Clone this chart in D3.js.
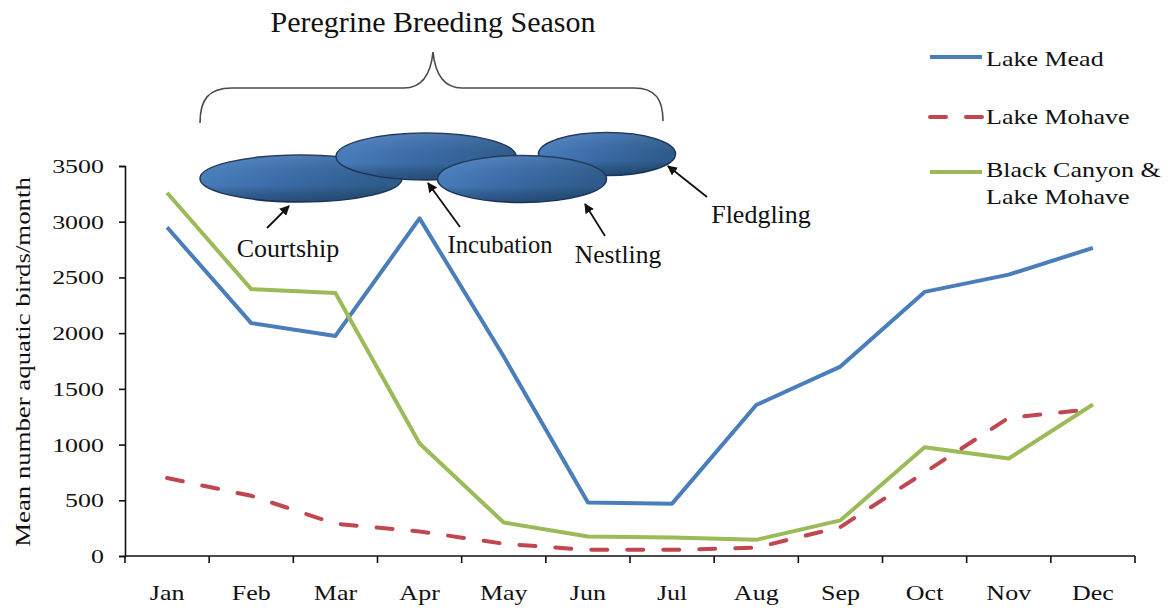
<!DOCTYPE html>
<html>
<head>
<meta charset="utf-8">
<script src="https://cdn.jsdelivr.net/npm/d3@7"></script>
<style>
  html, body { margin: 0; padding: 0; background: #fff; }
  svg { display: block; }
  text { font-family: "Liberation Serif", "Times New Roman", serif; fill: #111; }
</style>
</head>
<body>
<svg id="chart" width="1176" height="613"></svg>
<script>
// Monthly means of aquatic birds at three survey areas
const months = ["Jan", "Feb", "Mar", "Apr", "May", "Jun", "Jul", "Aug", "Sep", "Oct", "Nov", "Dec"];
const lakeMead = [2950, 2090, 1975, 3030, 1790, 480, 470, 1355, 1700, 2370, 2525, 2765];
const lakeMohave = [700, 540, 290, 220, 110, 55, 55, 75, 260, 750, 1240, 1320];
const blackCanyon = [3260, 2395, 2360, 1010, 300, 175, 165, 145, 320, 975, 875, 1360];
const yTicks = [0, 500, 1000, 1500, 2000, 2500, 3000, 3500];

const seriesNames = ["Lake Mead", "Lake Mohave", "Black Canyon & Lake Mohave"];

// Breeding-season phases shown above the plot
const phases = ["Courtship", "Incubation", "Nestling", "Fledgling"];

const svg = d3.select("#chart");

const plot = { left: 125, right: 1135, top: 166, bottom: 556 };

const x = d3.scaleBand().domain(months).range([plot.left, plot.right]);
const y = d3.scaleLinear().domain([0, 3500]).range([plot.bottom, plot.top]);

// Text helper: serif text, optionally widened along its own direction
function label(g, str, tx, ty, opts = {}) {
  const size = opts.size || 20;
  const sx = opts.sx || 1;
  const rot = opts.rotate || 0;
  return g.append("text")
    .attr("transform", `translate(${tx},${ty}) rotate(${rot}) scale(${sx},1)`)
    .attr("text-anchor", opts.anchor || "start")
    .style("font-size", size + "px")
    .text(str);
}

// ---- Axes ----
const axisG = svg.append("g");

const yAxis = d3.axisLeft(y).tickValues(yTicks).tickSize(6).tickFormat("");
axisG.append("g")
  .attr("transform", `translate(${plot.left},0)`)
  .call(yAxis)
  .call(g => g.selectAll("path, line").attr("stroke", "#111").attr("stroke-width", 1.6));

// y tick labels
yTicks.forEach(v => {
  label(axisG, String(v), 104, y(v) + 7, { size: 19.5, sx: 1.33, anchor: "end" });
});

// x axis: baseline plus ticks at category boundaries
const xAxisG = axisG.append("g");
xAxisG.append("line")
  .attr("x1", plot.left).attr("x2", plot.right)
  .attr("y1", plot.bottom).attr("y2", plot.bottom)
  .attr("stroke", "#111").attr("stroke-width", 1.6);
const boundaries = months.map(m => x(m)).concat([x(months[months.length - 1]) + x.bandwidth()]);
xAxisG.selectAll("line.tick")
  .data(boundaries)
  .join("line")
  .attr("class", "tick")
  .attr("x1", d => d).attr("x2", d => d)
  .attr("y1", plot.bottom).attr("y2", plot.bottom + 7)
  .attr("stroke", "#111").attr("stroke-width", 1.6);

months.forEach(m => {
  label(xAxisG, m, x(m) + x.bandwidth() / 2, 600, { size: 20, sx: 1.3, anchor: "middle" });
});

// y axis title
label(axisG, "Mean number aquatic birds/month", 30, 362, { size: 20, sx: 1.34, rotate: -90, anchor: "middle" });

// ---- Lines ----
const line = d3.line()
  .x((d, i) => x(months[i]) + x.bandwidth() / 2)
  .y(d => y(d));

const series = [
  { name: seriesNames[0], values: lakeMead, color: "#4A7EBB", dash: null },
  { name: seriesNames[1], values: lakeMohave, color: "#C0464F", dash: "16,20" },
  { name: seriesNames[2], values: blackCanyon, color: "#9BBB59", dash: null }
];

const linesG = svg.append("g");
[series[0], series[2], series[1]].forEach(s => {
  linesG.append("path")
    .datum(s.values)
    .attr("d", line)
    .attr("fill", "none")
    .attr("stroke", s.color)
    .attr("stroke-width", 4)
    .attr("stroke-linejoin", "round")
    .attr("stroke-linecap", s.dash ? "round" : "butt")
    .attr("stroke-dasharray", s.dash);
});

// ---- Legend ----
const legend = svg.append("g");
const legendRows = [
  { s: series[0], lineY: 57 },
  { s: series[1], lineY: 117 },
  { s: series[2], lineY: 172 }
];
legendRows.forEach(r => {
  legend.append("line")
    .attr("x1", 930).attr("x2", r.s.dash ? 984 : 982)
    .attr("y1", r.lineY).attr("y2", r.lineY)
    .attr("stroke", r.s.color)
    .attr("stroke-width", 4)
    .attr("stroke-linecap", r.s.dash ? "round" : "butt")
    .attr("stroke-dasharray", r.s.dash);
});
label(legend, "Lake Mead", 986, 66, { size: 20, sx: 1.3 });
label(legend, "Lake Mohave", 986, 124, { size: 20, sx: 1.3 });
label(legend, "Black Canyon &", 986, 177, { size: 20, sx: 1.3 });
label(legend, "Lake Mohave", 986, 204, { size: 20, sx: 1.3 });

// ---- Breeding season annotation ----
const ann = svg.append("g");

label(ann, "Peregrine Breeding Season", 433, 32, { size: 30, anchor: "middle" });

// curly brace spanning the season
const brace = d3.path();
brace.moveTo(200, 123);
brace.bezierCurveTo(200, 100, 208, 88, 232, 88);
brace.lineTo(404, 88);
brace.bezierCurveTo(424, 88, 431, 72, 433, 52);
brace.bezierCurveTo(435, 72, 442, 88, 462, 88);
brace.lineTo(634, 88);
brace.bezierCurveTo(656, 88, 663, 100, 663, 121);
ann.append("path")
  .attr("d", brace.toString())
  .attr("fill", "none")
  .attr("stroke", "#4a4a4a")
  .attr("stroke-width", 1.6);

const defs = svg.append("defs");
const grad = defs.append("linearGradient")
  .attr("id", "phaseFill")
  .attr("x1", "0").attr("y1", "0").attr("x2", "1").attr("y2", "0.4");
grad.append("stop").attr("offset", "0%").attr("stop-color", "#4f86c6");
grad.append("stop").attr("offset", "55%").attr("stop-color", "#3b6ca8");
grad.append("stop").attr("offset", "100%").attr("stop-color", "#2e5c8c");

const shade = defs.append("linearGradient")
  .attr("id", "phaseShade")
  .attr("x1", "0").attr("y1", "0").attr("x2", "0").attr("y2", "1");
shade.append("stop").attr("offset", "0%").attr("stop-color", "#ffffff").attr("stop-opacity", 0.08);
shade.append("stop").attr("offset", "65%").attr("stop-color", "#000000").attr("stop-opacity", 0);
shade.append("stop").attr("offset", "100%").attr("stop-color", "#0a1f3a").attr("stop-opacity", 0.35);

const marker = defs.append("marker")
  .attr("id", "arrowHead")
  .attr("viewBox", "0 0 10 10")
  .attr("refX", 9).attr("refY", 5)
  .attr("markerWidth", 5.5).attr("markerHeight", 5.5)
  .attr("markerUnits", "strokeWidth")
  .attr("orient", "auto");
marker.append("path").attr("d", "M0,0 L10,5 L0,10 Z").attr("fill", "#111");

// ovals drawn in stacking order: courtship, incubation, fledgling, nestling
const ovals = [
  { name: phases[0], cx: 301, cy: 178.5, rx: 101, ry: 23.5 },
  { name: phases[1], cx: 426, cy: 156.5, rx: 90, ry: 23.5 },
  { name: phases[3], cx: 607, cy: 154, rx: 68.5, ry: 21.5 },
  { name: phases[2], cx: 522, cy: 179, rx: 84.5, ry: 23.5 }
];
ovals.forEach(o => {
  ann.append("ellipse")
    .attr("cx", o.cx).attr("cy", o.cy).attr("rx", o.rx).attr("ry", o.ry)
    .attr("fill", "url(#phaseFill)")
    .attr("stroke", "#1d365a").attr("stroke-width", 1.5);
  ann.append("ellipse")
    .attr("cx", o.cx).attr("cy", o.cy).attr("rx", o.rx).attr("ry", o.ry)
    .attr("fill", "url(#phaseShade)")
    .attr("stroke", "none");
});

const arrows = [
  { from: [267, 228], to: [289, 206] },
  { from: [460, 227], to: [428, 183] },
  { from: [605, 236], to: [585, 204] },
  { from: [707, 197], to: [668, 166] }
];
arrows.forEach(a => {
  ann.append("line")
    .attr("x1", a.from[0]).attr("y1", a.from[1])
    .attr("x2", a.to[0]).attr("y2", a.to[1])
    .attr("stroke", "#111").attr("stroke-width", 1.8)
    .attr("marker-end", "url(#arrowHead)");
});

label(ann, phases[0], 288, 257, { size: 26, anchor: "middle" });
label(ann, phases[1], 500, 253, { size: 24.5, anchor: "middle" });
label(ann, phases[2], 618, 263, { size: 25.5, anchor: "middle" });
label(ann, phases[3], 761, 223, { size: 26, anchor: "middle" });
</script>
</body>
</html>
